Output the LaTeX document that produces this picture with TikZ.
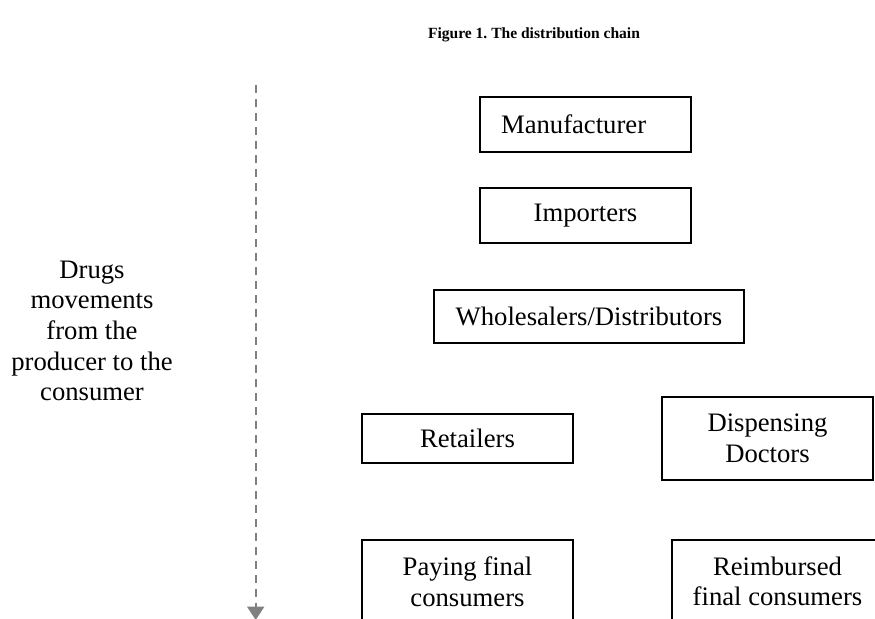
\documentclass[tikz,border=0pt]{standalone}
\usepackage{fontspec}
\setmainfont{Liberation Serif}
\usepackage{tikz}
\usetikzlibrary{arrows.meta}
\usetikzlibrary{positioning}
\frenchspacing
\tikzset{
    chainbox/.style={draw, line width=0.9pt, minimum width=95pt, minimum height=24.75pt, align=center, font=\fontsize{12}{13.8}\selectfont},
    flowline/.style={draw=gray, line width=0.9pt, dash pattern=on 3.6pt off 2.7pt, -{Triangle[width=7.6pt,length=6pt,fill=gray]}}
}

\begin{document}
\begin{tikzpicture}[x=0.45pt, y=-0.45pt]
        \useasboundingbox (0,0) rectangle (875,619);
        \clip (0,0) rectangle (875,619);
        % title
        \node[font=\fontsize{7}{8.4}\selectfont\bfseries] (title) at (534,35) {Figure 1. The distribution chain};
        % left label
        \node[align=center, font=\fontsize{12}{13.8}\selectfont] (label) at (92,331) {Drugs\\ movements\\ from the\\ producer to the\\ consumer};
        % arrow
        \coordinate (top) at (255.7,85);
        \coordinate (bot) at (255.7,620);
        \draw[flowline] (top) -- (bot);
        % row1
        \node[chainbox, text width=76pt, align=left, inner xsep=9.5pt] (manuf) at (585.5,124.5) {Manufacturer};
        % row2
        \node[chainbox] (import) at (585.5,215.5) {Importers};
        % row3
        \node[chainbox, minimum width=139.5pt, minimum height=23.85pt] (whole) at (589,316.5) {Wholesalers/Distributors};
        % row4
        \node[chainbox, minimum height=22pt] (retail) at (467.5,438.5) {Retailers};
        \node[chainbox, minimum height=37.35pt] (dispdoc) at (767.5,438.5) {Dispensing\\ Doctors};
        % row5
        \node[chainbox, minimum height=37.35pt] (paying) at (467.5,581.5) {Paying final\\ consumers};
        \node[chainbox, minimum height=37.35pt] (reimb) at (777.5,581.5) {Reimbursed\\ final consumers};
    \end{tikzpicture}
\end{document}
